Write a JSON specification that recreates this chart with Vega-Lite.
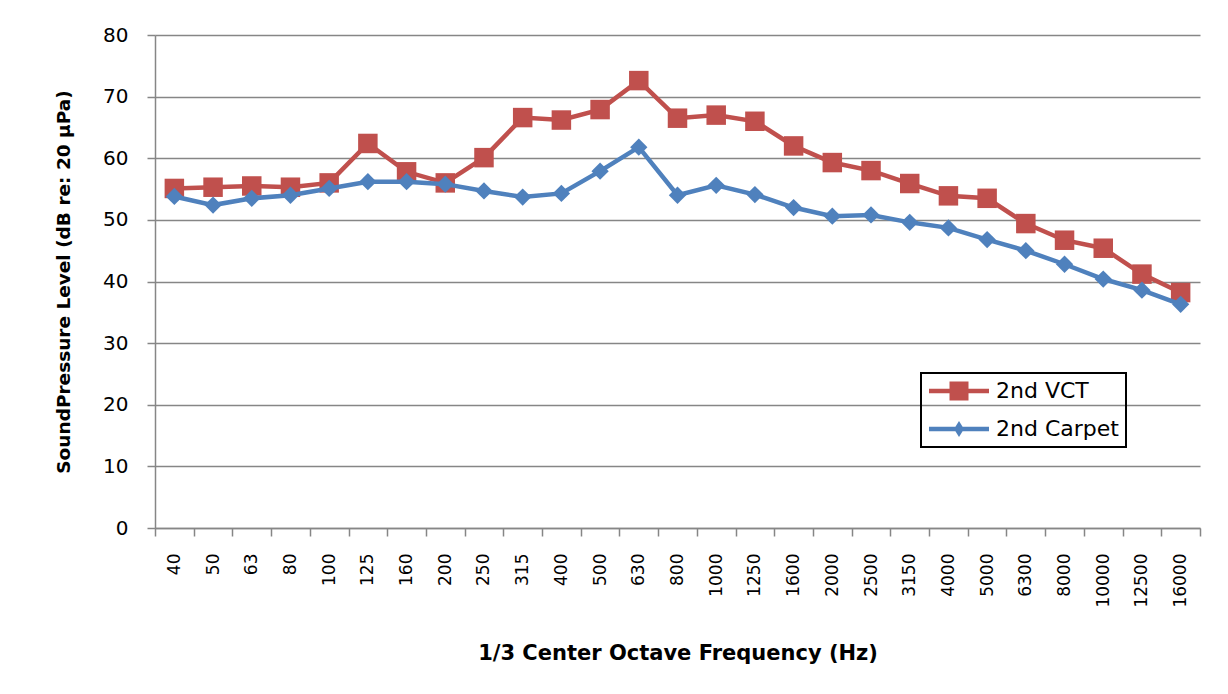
{
  "$schema": "https://vega.github.io/schema/vega-lite/v6.json",
  "width": 1045,
  "height": 493,
  "autosize": "none",
  "padding": {"left": 155, "top": 35, "right": 28, "bottom": 166},
  "background": "white",
  "config": {"view": {"stroke": null}},
  "datasets": {
    "spl": [
      {"freq": "40", "series": "2nd VCT", "spl": 55.1},
      {"freq": "50", "series": "2nd VCT", "spl": 55.3},
      {"freq": "63", "series": "2nd VCT", "spl": 55.5},
      {"freq": "80", "series": "2nd VCT", "spl": 55.3},
      {"freq": "100", "series": "2nd VCT", "spl": 56.0},
      {"freq": "125", "series": "2nd VCT", "spl": 62.4},
      {"freq": "160", "series": "2nd VCT", "spl": 57.8},
      {"freq": "200", "series": "2nd VCT", "spl": 56.0},
      {"freq": "250", "series": "2nd VCT", "spl": 60.1},
      {"freq": "315", "series": "2nd VCT", "spl": 66.6},
      {"freq": "400", "series": "2nd VCT", "spl": 66.2},
      {"freq": "500", "series": "2nd VCT", "spl": 67.9},
      {"freq": "630", "series": "2nd VCT", "spl": 72.6},
      {"freq": "800", "series": "2nd VCT", "spl": 66.5},
      {"freq": "1000", "series": "2nd VCT", "spl": 67.0},
      {"freq": "1250", "series": "2nd VCT", "spl": 66.0},
      {"freq": "1600", "series": "2nd VCT", "spl": 62.0},
      {"freq": "2000", "series": "2nd VCT", "spl": 59.3},
      {"freq": "2500", "series": "2nd VCT", "spl": 58.0},
      {"freq": "3150", "series": "2nd VCT", "spl": 55.9},
      {"freq": "4000", "series": "2nd VCT", "spl": 53.9},
      {"freq": "5000", "series": "2nd VCT", "spl": 53.5},
      {"freq": "6300", "series": "2nd VCT", "spl": 49.4},
      {"freq": "8000", "series": "2nd VCT", "spl": 46.7},
      {"freq": "10000", "series": "2nd VCT", "spl": 45.4},
      {"freq": "12500", "series": "2nd VCT", "spl": 41.2},
      {"freq": "16000", "series": "2nd VCT", "spl": 38.2},
      {"freq": "40", "series": "2nd Carpet", "spl": 53.8},
      {"freq": "50", "series": "2nd Carpet", "spl": 52.4},
      {"freq": "63", "series": "2nd Carpet", "spl": 53.5},
      {"freq": "80", "series": "2nd Carpet", "spl": 54.0},
      {"freq": "100", "series": "2nd Carpet", "spl": 55.1},
      {"freq": "125", "series": "2nd Carpet", "spl": 56.2},
      {"freq": "160", "series": "2nd Carpet", "spl": 56.2},
      {"freq": "200", "series": "2nd Carpet", "spl": 55.8},
      {"freq": "250", "series": "2nd Carpet", "spl": 54.7},
      {"freq": "315", "series": "2nd Carpet", "spl": 53.7},
      {"freq": "400", "series": "2nd Carpet", "spl": 54.3},
      {"freq": "500", "series": "2nd Carpet", "spl": 57.9},
      {"freq": "630", "series": "2nd Carpet", "spl": 61.8},
      {"freq": "800", "series": "2nd Carpet", "spl": 54.0},
      {"freq": "1000", "series": "2nd Carpet", "spl": 55.6},
      {"freq": "1250", "series": "2nd Carpet", "spl": 54.1},
      {"freq": "1600", "series": "2nd Carpet", "spl": 52.0},
      {"freq": "2000", "series": "2nd Carpet", "spl": 50.6},
      {"freq": "2500", "series": "2nd Carpet", "spl": 50.8},
      {"freq": "3150", "series": "2nd Carpet", "spl": 49.6},
      {"freq": "4000", "series": "2nd Carpet", "spl": 48.7},
      {"freq": "5000", "series": "2nd Carpet", "spl": 46.8},
      {"freq": "6300", "series": "2nd Carpet", "spl": 45.0},
      {"freq": "8000", "series": "2nd Carpet", "spl": 42.8},
      {"freq": "10000", "series": "2nd Carpet", "spl": 40.4},
      {"freq": "12500", "series": "2nd Carpet", "spl": 38.6},
      {"freq": "16000", "series": "2nd Carpet", "spl": 36.3}
    ]
  },
  "data": {"name": "spl"},
  "encoding": {
    "x": {
      "field": "freq",
      "type": "ordinal",
      "sort": ["40","50","63","80","100","125","160","200","250","315","400","500","630","800","1000","1250","1600","2000","2500","3150","4000","5000","6300","8000","10000","12500","16000"],
      "scale": {"type": "band", "paddingInner": 0, "paddingOuter": 0},
      "axis": {
        "title": "1/3 Center Octave Frequency (Hz)",
        "titleFont": "DejaVu Sans",
        "titleFontWeight": "bold",
        "titleFontSize": 21,
        "titleColor": "#000000",
        "titleY": 125,
        "titleBaseline": "middle",
        "labelAngle": -90,
        "labelFont": "DejaVu Sans",
        "labelFontSize": 17,
        "labelColor": "#000000",
        "labelPadding": 17,
        "tickBand": "extent",
        "tickSize": 8,
        "tickColor": "#868686",
        "tickWidth": 1.5,
        "domainColor": "#868686",
        "domainWidth": 1.5,
        "grid": false
      }
    },
    "y": {
      "field": "spl",
      "type": "quantitative",
      "scale": {"domain": [0, 80], "nice": false},
      "axis": {
        "title": "SoundPressure Level (dB re: 20 µPa)",
        "titleFont": "DejaVu Sans",
        "titleFontWeight": "bold",
        "titleFontSize": 18.5,
        "titleColor": "#000000",
        "titleX": -92,
        "titleBaseline": "middle",
        "values": [0, 10, 20, 30, 40, 50, 60, 70, 80],
        "labelFont": "DejaVu Sans",
        "labelFontSize": 20,
        "labelColor": "#000000",
        "labelPadding": 19,
        "tickSize": 8,
        "tickColor": "#868686",
        "tickWidth": 1.5,
        "domainColor": "#868686",
        "domainWidth": 1.5,
        "grid": true,
        "gridColor": "#868686",
        "gridWidth": 1.5
      }
    },
    "color": {
      "field": "series",
      "type": "nominal",
      "scale": {"domain": ["2nd VCT", "2nd Carpet"], "range": ["#C0504D", "#4F81BD"]},
      "legend": {
        "orient": "none",
        "legendX": 766,
        "legendY": 338,
        "title": null,
        "labelFont": "DejaVu Sans",
        "labelFontSize": 22,
        "labelColor": "#000000",
        "symbolSize": 400,
        "strokeColor": "#000000",
        "padding": 7,
        "rowPadding": 16,
        "labelOffset": 46,
        "encode": {
          "legend": {"update": {"strokeWidth": {"value": 2}}},
          "symbols": {
            "update": {
              "shape": {"signal": "datum.value === '2nd VCT' ? 'M-1,-0.22H5V0.22H-1Z M1.05,-0.95H2.95V0.95H1.05Z' : 'M-1,-0.22H5V0.22H-1Z M2,-0.8L2.5,0L2,0.8L1.5,0Z'"},
              "fill": {"signal": "scale('color', datum.value)"},
              "stroke": {"value": "transparent"},
              "strokeWidth": {"value": 0},
              "opacity": {"value": 1}
            }
          }
        }
      }
    }
  },
  "layer": [
    {
      "transform": [{"filter": "datum.series === '2nd VCT'"}],
      "mark": {"type": "line", "strokeWidth": 4.5}
    },
    {
      "transform": [{"filter": "datum.series === '2nd VCT'"}],
      "mark": {"type": "point", "shape": "square", "filled": true, "size": 380, "opacity": 1}
    },
    {
      "transform": [{"filter": "datum.series === '2nd Carpet'"}],
      "mark": {"type": "line", "strokeWidth": 4.5}
    },
    {
      "transform": [{"filter": "datum.series === '2nd Carpet'"}],
      "mark": {"type": "point", "shape": "diamond", "filled": true, "size": 300, "opacity": 1}
    }
  ]
}
